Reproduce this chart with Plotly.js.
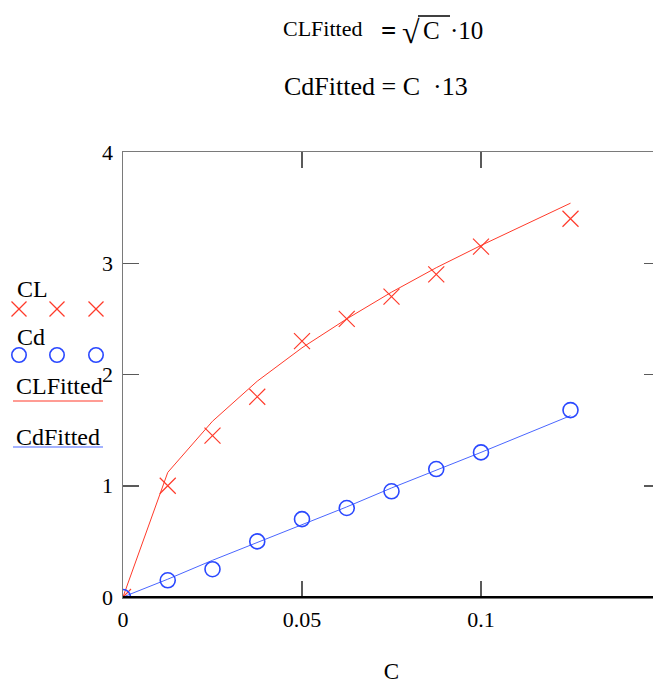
<!DOCTYPE html>
<html>
<head>
<meta charset="utf-8">
<script src="https://cdn.plot.ly/plotly-3.0.1.min.js"></script>
<style>
html,body{margin:0;padding:0;overflow:hidden;background:#fff;}
#chart{width:670px;height:684px;}
</style>
</head>
<body>
<div id="chart"></div>
<script>
// ---- data ----
var C = [0, 0.0125, 0.025, 0.0375, 0.05, 0.0625, 0.075, 0.0875, 0.1, 0.125];
var CL = [0, 1.0, 1.45, 1.8, 2.3, 2.5, 2.7, 2.9, 3.15, 3.4];
var Cd = [0, 0.15, 0.25, 0.5, 0.7, 0.8, 0.95, 1.15, 1.3, 1.68];
var CLFitted = [0, 1.12, 1.58, 1.94, 2.24, 2.5, 2.74, 2.96, 3.16, 3.54];
var CdFitted = [0, 0.16, 0.33, 0.49, 0.65, 0.81, 0.98, 1.14, 1.3, 1.63];
var xTickVals = [0, 0.05, 0.1];
var xTickText = ['0', '0.05', '0.1'];
var yTickVals = [0, 1, 2, 3, 4];
var yTickText = ['0', '1', '2', '3', '4'];

var RED = '#ff3a2a', BLUE = '#2a48ff', BLUE_L = '#4a66ff';
var FONT = 'Liberation Serif, Times New Roman, serif';

// plot area in pixels
var L = 123, R = 660, T = 152, B = 597, W = 670, H = 684;
function px(x){ return (x - L) / (R - L); }
function py(y){ return (B - y) / (B - T); }

var traces = [
  {x: C, y: CLFitted, mode: 'lines', line: {color: RED, width: 1}, name: 'CLFitted', hoverinfo: 'x+y'},
  {x: C, y: CdFitted, mode: 'lines', line: {color: BLUE_L, width: 1}, name: 'CdFitted', hoverinfo: 'x+y'},
  {x: C, y: CL, mode: 'markers', name: 'CL',
   marker: {symbol: 'x-thin-open', size: 16, color: RED, line: {color: RED, width: 1.2}}},
  {x: C, y: Cd, mode: 'markers', name: 'Cd',
   marker: {symbol: 'circle-open', size: 15, color: BLUE, line: {color: BLUE, width: 1.6}}}
];

var ann = [];
var shapes = [];
function txt(t, x, y, size, extra){
  var a = {text: t, x: px(x), y: py(y), xref: 'paper', yref: 'paper', showarrow: false,
           xanchor: 'left', yanchor: 'middle', font: {family: FONT, size: size, color: '#000'}};
  if (extra) for (var k in extra) a[k] = extra[k];
  ann.push(a);
}
// equations
txt('CLFitted', 281, 29, 22);
txt('<b>=</b>', 379, 31, 27);
txt('√', 400, 32, 32);
txt('C', 421, 30, 25);
txt('·10', 448, 30, 25);
shapes.push({type: 'line', xref: 'paper', yref: 'paper', x0: px(418), x1: px(450), y0: py(16), y1: py(16), line: {color: '#000', width: 1.5}});
txt('CdFitted = C  ·13', 282, 86, 26);

// legend (custom, stacked like the reference)
txt('CL', 15, 289, 24);
[19, 57, 96].forEach(function(cx){
  var cy = 309, h = 7.5;
  shapes.push({type: 'line', xref: 'paper', yref: 'paper', x0: px(cx - h), x1: px(cx + h), y0: py(cy - h), y1: py(cy + h), line: {color: RED, width: 1.2}});
  shapes.push({type: 'line', xref: 'paper', yref: 'paper', x0: px(cx - h), x1: px(cx + h), y0: py(cy + h), y1: py(cy - h), line: {color: RED, width: 1.2}});
});
txt('Cd', 15, 337, 24);
[19, 57, 96].forEach(function(cx){
  var cy = 355, r = 7.2;
  shapes.push({type: 'circle', xref: 'paper', yref: 'paper', x0: px(cx - r), x1: px(cx + r), y0: py(cy + r), y1: py(cy - r), line: {color: BLUE, width: 1.6}});
});
txt('CLFitted', 14, 386, 24);
shapes.push({type: 'line', xref: 'paper', yref: 'paper', x0: px(13), x1: px(103), y0: py(401), y1: py(401), line: {color: RED, width: 1.2}});
txt('CdFitted', 14, 437, 24);
shapes.push({type: 'line', xref: 'paper', yref: 'paper', x0: px(13), x1: px(103), y0: py(447), y1: py(447), line: {color: BLUE_L, width: 1.2}});

// frame: bottom black line
shapes.push({type: 'line', xref: 'paper', yref: 'paper', x0: 0, x1: 1, y0: 0, y1: 0, line: {color: '#000', width: 2}});

var layout = {
  width: W, height: H,
  margin: {l: L, r: W - R, t: T, b: H - B, pad: 0},
  paper_bgcolor: '#fff', plot_bgcolor: '#fff',
  showlegend: false,
  font: {family: FONT, size: 20, color: '#000'},
  xaxis: {
    range: [0, 0.15], showgrid: false, zeroline: false,
    showline: true, linecolor: '#7a7a7a', linewidth: 1.5, mirror: 'ticks',
    ticks: 'inside', ticklen: 16, tickwidth: 1.5, tickcolor: '#5a5a5a',
    tickvals: xTickVals, ticktext: xTickText, ticklabelstandoff: 2,
    tickfont: {family: FONT, size: 22, color: '#000'},
    title: {text: 'C', font: {family: FONT, size: 23, color: '#000'}, standoff: 38}
  },
  yaxis: {
    range: [0, 4], showgrid: false, zeroline: false,
    showline: true, linecolor: '#7a7a7a', linewidth: 1.5, mirror: 'ticks',
    ticks: 'inside', ticklen: 16, tickwidth: 1.5, tickcolor: '#5a5a5a',
    tickvals: yTickVals, ticktext: yTickText, ticklabelstandoff: 4,
    tickfont: {family: FONT, size: 22, color: '#000'}
  },
  annotations: ann,
  shapes: shapes
};

Plotly.newPlot('chart', traces, layout, {displayModeBar: false, staticPlot: true});
</script>
</body>
</html>
